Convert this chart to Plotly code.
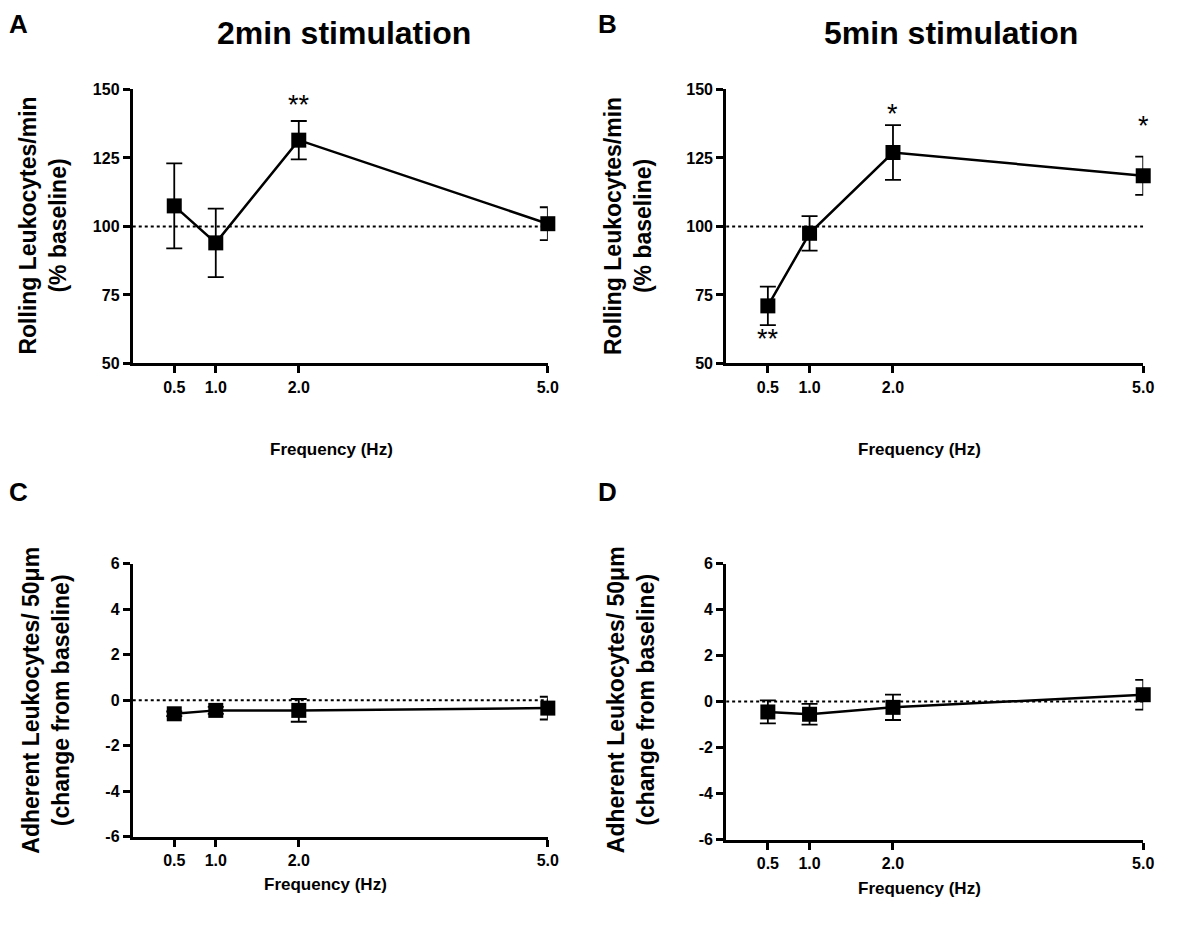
import plotly.graph_objects as go

freq = [0.5, 1.0, 2.0, 5.0]
tick_labels = ["0.5", "1.0", "2.0", "5.0"]

rolling_2min = [107.5, 94.0, 131.5, 101.0]
rolling_2min_err = [15.5, 12.5, 7.0, 6.0]
rolling_5min = [71.0, 97.5, 127.0, 118.5]
rolling_5min_err = [7.0, 6.3, 10.0, 7.0]
adherent_2min = [-0.6, -0.45, -0.45, -0.35]
adherent_2min_err = [0.1, 0.15, 0.5, 0.5]
adherent_5min = [-0.45, -0.55, -0.25, 0.3]
adherent_5min_err = [0.5, 0.45, 0.55, 0.65]

rolling_ticks = [50, 75, 100, 125, 150]
rolling_tick_text = ["50", "75", "100", "125", "150"]
adherent_ticks = [-6, -4, -2, 0, 2, 4, 6]
adherent_tick_text = ["-6", "-4", "-2", "0", "2", "4", "6"]

# significance marks: (panel, x, y, text)
sig_marks = [
    (1, 2.0, 144.5, "**"),
    (2, 2.0, 141.0, "*"),
    (2, 5.0, 136.5, "*"),
    (2, 0.5, 59.0, "**"),
]

W, H = 1177, 932
FONT = "Liberation Sans, Arial, sans-serif"

def px(x):
    return x / W

def py(y):
    return 1 - y / H

panels = [
    dict(x=freq, y=rolling_2min, e=rolling_2min_err, xd=[px(134), px(553)], yd=[py(362), py(83)],
         yr=[50, 150], yt=rolling_ticks, ytt=rolling_tick_text, base=100),
    dict(x=freq, y=rolling_5min, e=rolling_5min_err, xd=[px(733), px(1154)], yd=[py(362), py(83)],
         yr=[50, 150], yt=rolling_ticks, ytt=rolling_tick_text, base=100),
    dict(x=freq, y=adherent_2min, e=adherent_2min_err, xd=[px(134), px(553)], yd=[py(844), py(566)],
         yr=[-6, 6], yt=adherent_ticks, ytt=adherent_tick_text, base=0),
    dict(x=freq, y=adherent_5min, e=adherent_5min_err, xd=[px(733), px(1154)], yd=[py(847), py(566)],
         yr=[-6, 6], yt=adherent_ticks, ytt=adherent_tick_text, base=0),
]

fig = go.Figure()
layout = dict(
    width=W, height=H, margin=dict(l=0, r=0, t=0, b=0),
    paper_bgcolor="white", plot_bgcolor="white", showlegend=False,
    font=dict(family=FONT, color="black"),
)
shapes = []
annotations = []

for i, p in enumerate(panels, start=1):
    xa = "x" if i == 1 else f"x{i}"
    ya = "y" if i == 1 else f"y{i}"
    shapes.append(dict(type="line", xref=xa, yref=ya, x0=0, x1=5.05, y0=p["base"], y1=p["base"],
                       line=dict(color="black", width=2, dash="dot"), layer="below"))
    fig.add_trace(go.Scatter(
        x=p["x"], y=p["y"], xaxis=xa, yaxis=ya, mode="lines+markers",
        line=dict(color="black", width=2.5),
        marker=dict(symbol="square", size=15, color="black"),
        error_y=dict(type="data", array=p["e"], symmetric=True, color="black", thickness=1.8, width=8),
        cliponaxis=False,
    ))
    axkey_x = "xaxis" if i == 1 else f"xaxis{i}"
    axkey_y = "yaxis" if i == 1 else f"yaxis{i}"
    layout[axkey_x] = dict(
        domain=p["xd"], anchor=ya, range=[0, 5], tickmode="array", tickvals=freq, ticktext=tick_labels,
        showline=True, linecolor="black", linewidth=3, ticks="outside", ticklen=7, tickwidth=3,
        tickcolor="black", showgrid=False, zeroline=False,
        tickfont=dict(family=FONT, size=16, color="black", weight="bold"),
    )
    layout[axkey_y] = dict(
        domain=p["yd"], anchor=xa, range=p["yr"], tickmode="array", tickvals=p["yt"], ticktext=p["ytt"],
        showline=True, linecolor="black", linewidth=3, ticks="outside", ticklen=7, tickwidth=3,
        tickcolor="black", showgrid=False, zeroline=False,
        tickfont=dict(family=FONT, size=16, color="black", weight="bold"),
    )

for panel, x, y, t in sig_marks:
    xa = "x" if panel == 1 else f"x{panel}"
    ya = "y" if panel == 1 else f"y{panel}"
    annotations.append(dict(xref=xa, yref=ya, x=x, y=y, text=t, showarrow=False,
                            xanchor="center", yanchor="middle",
                            font=dict(family=FONT, size=27, color="black")))

def paper_text(text, x, y, size, angle=0):
    annotations.append(dict(xref="paper", yref="paper", x=px(x), y=py(y), text=text, showarrow=False,
                            xanchor="center", yanchor="middle", textangle=angle,
                            font=dict(family=FONT, size=size, color="black", weight="bold")))

for letter, x, y in [("A", 19, 16), ("B", 613, 16), ("C", 19, 493), ("D", 613, 493)]:
    paper_text(letter, x, y, 26)

for text, x in [("2min stimulation", 347), ("5min stimulation", 960)]:
    paper_text(text, x, 25, 32)

ytitles = [
    ("Rolling Leukocytes/min<br>(% baseline)", 43, 222),
    ("Rolling Leukocytes/min<br>(% baseline)", 634, 222),
    ("Adherent Leukocytes/ 50μm<br>(change from baseline)", 47, 705),
    ("Adherent Leukocytes/ 50μm<br>(change from baseline)", 637, 705),
]
for text, x, y in ytitles:
    paper_text(text, x, y, 23, angle=-90)

for x, y in [(335, 450), (928, 450), (329, 893), (928, 897)]:
    paper_text("Frequency (Hz)", x, y, 17)

layout["shapes"] = shapes
layout["annotations"] = annotations
fig.update_layout(**layout)
fig.write_html("out.html")
